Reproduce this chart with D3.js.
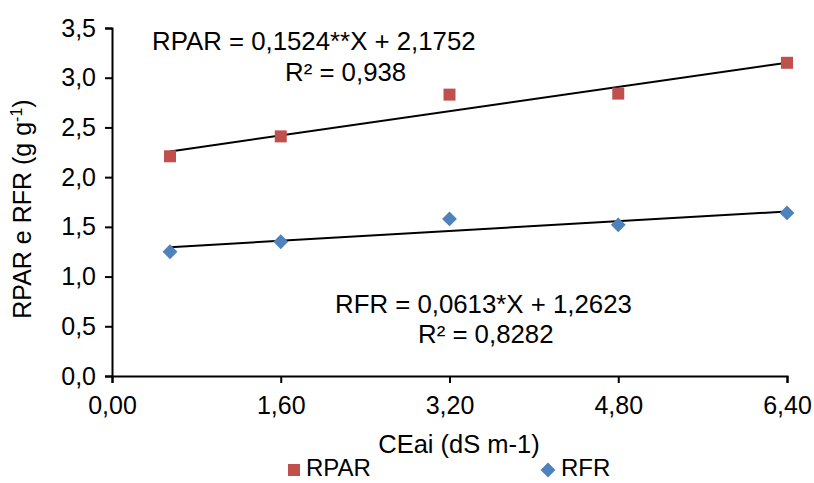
<!DOCTYPE html>
<html>
<head>
<meta charset="utf-8">
<script src="https://cdn.jsdelivr.net/npm/d3@7"></script>
<style>
  body { margin: 0; background: #fff; }
  svg text { font-family: "Liberation Sans", Arial, sans-serif; fill: #000; }
</style>
</head>
<body>
<div id="chart"></div>
<script>
let width = 814
let height = 483

// data
let ceai = [0.55, 1.6, 3.2, 4.8, 6.4]
let rpar = [2.21, 2.41, 2.83, 2.84, 3.15]
let rfr = [1.25, 1.35, 1.58, 1.52, 1.64]
let xTicks = [0, 1.6, 3.2, 4.8, 6.4]
let yTicks = [0, 0.5, 1, 1.5, 2, 2.5, 3, 3.5]
let rparFit = [0.1524, 2.1752]
let rfrFit = [0.0613, 1.2623]

let fmt1 = d => d3.format('.1f')(d).replace('.', ',')
let fmt2 = d => d3.format('.2f')(d).replace('.', ',')

let x = d3.scaleLinear().domain([0, 6.4]).range([112, 787])
let y = d3.scaleLinear().domain([0, 3.5]).range([376, 28])

const svg = d3.select('#chart')
	.append('svg')
	.attr('width', width)
	.attr('height', height)

// axes
let xAxis = g => g.attr('transform', `translate(0,${y(0)})`)
	.call(d3.axisBottom(x).tickValues(xTicks).tickFormat(fmt2).tickSizeOuter(0).tickSize(7).tickPadding(13))

let yAxis = g => g.attr('transform', `translate(${x(0)},0)`)
	.call(d3.axisLeft(y).tickValues(yTicks).tickFormat(fmt1).tickSizeOuter(0).tickSize(7).tickPadding(9))

let gx = svg.append('g').call(xAxis)
let gy = svg.append('g').call(yAxis)

for (let g of [gx, gy]) {
	g.select('.domain').attr('stroke', '#000').attr('stroke-width', 2)
	g.selectAll('.tick line').attr('stroke', '#000').attr('stroke-width', 2)
	g.selectAll('.tick text').attr('font-size', 25).attr('fill', '#000')
		.style('font-family', '"Liberation Sans", Arial, sans-serif')
}
gx.selectAll('.tick text').attr('dy', '0.71em')

// trend lines
function trend(fit) {
	let x0 = d3.min(ceai), x1 = d3.max(ceai)
	return [[x0, fit[0] * x0 + fit[1]], [x1, fit[0] * x1 + fit[1]]]
}
let line = d3.line().x(d => x(d[0])).y(d => y(d[1]))

svg.append('path').datum(trend(rparFit))
	.attr('d', line).attr('stroke', '#000').attr('stroke-width', 2).attr('fill', 'none')
svg.append('path').datum(trend(rfrFit))
	.attr('d', line).attr('stroke', '#000').attr('stroke-width', 2).attr('fill', 'none')

// markers
let sq = d3.symbol().type(d3.symbolSquare).size(144)
let dm = d3.symbol().type(d3.symbolSquare).size(110)

svg.selectAll('.rpar')
	.data(ceai)
	.enter()
	.append('path')
	.attr('d', sq)
	.attr('transform', (d, i) => `translate(${x(d)},${y(rpar[i])})`)
	.attr('fill', '#C0504D')

svg.selectAll('.rfr')
	.data(ceai)
	.enter()
	.append('path')
	.attr('d', dm)
	.attr('transform', (d, i) => `translate(${x(d)},${y(rfr[i])}) rotate(45)`)
	.attr('fill', '#4F81BD')

// equations
svg.append('text').attr('x', 152).attr('y', 50).attr('font-size', 25.8)
	.text('RPAR = 0,1524**X + 2,1752')
svg.append('text').attr('x', 285).attr('y', 81).attr('font-size', 25.8)
	.text('R² = 0,938')
svg.append('text').attr('x', 335).attr('y', 313).attr('font-size', 25.8)
	.text('RFR = 0,0613*X + 1,2623')
svg.append('text').attr('x', 418).attr('y', 343).attr('font-size', 25.8)
	.text('R² = 0,8282')

// axis titles
svg.append('text').attr('x', 459).attr('y', 453).attr('font-size', 25.5)
	.attr('text-anchor', 'middle').text('CEai (dS m-1)')

let yl = svg.append('text')
	.attr('transform', 'translate(31,209) rotate(-90)')
	.attr('text-anchor', 'middle').attr('font-size', 25)
yl.append('tspan').text('RPAR e RFR (g g')
yl.append('tspan').attr('font-size', 16).attr('dy', -9).text('-1')
yl.append('tspan').attr('dy', 9).text(')')

// legend (kept just inside the bottom edge)
svg.append('path').attr('d', d3.symbol().type(d3.symbolSquare).size(144))
	.attr('transform', 'translate(294,470)').attr('fill', '#C0504D')
svg.append('text').attr('x', 306).attr('y', 476).attr('font-size', 24).text('RPAR')
svg.append('path').attr('d', dm)
	.attr('transform', 'translate(548,470) rotate(45)').attr('fill', '#4F81BD')
svg.append('text').attr('x', 561).attr('y', 476).attr('font-size', 24).text('RFR')
</script>
</body>
</html>
